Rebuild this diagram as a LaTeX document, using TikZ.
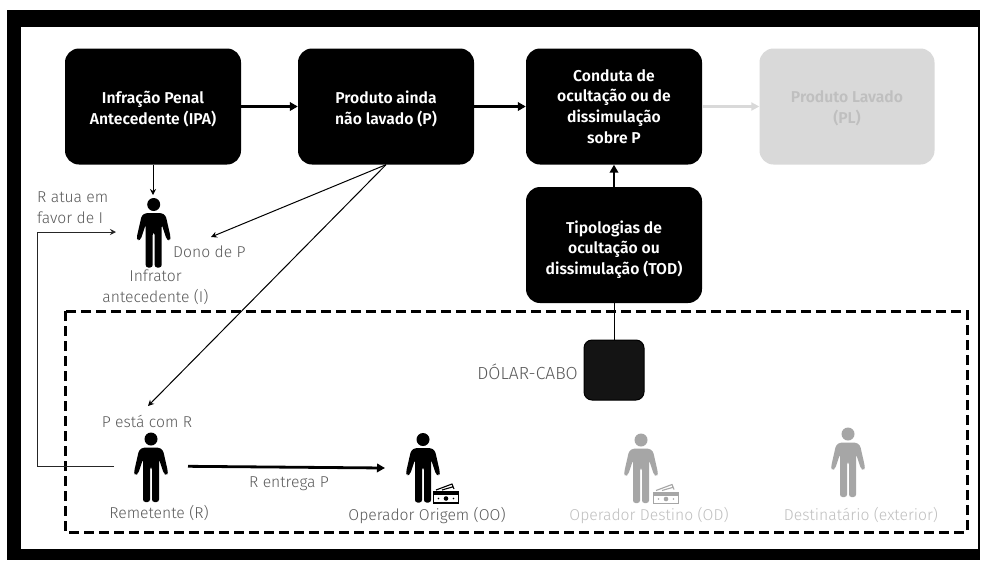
\documentclass[tikz,border=0pt]{standalone}
\usepackage{fontspec}
\setmainfont{Fira Sans Light}[BoldFont={Fira Sans SemiBold}]
\usetikzlibrary{arrows.meta}
\definecolor{txtg}{HTML}{595959}
\definecolor{fadeg}{HTML}{A6A6A6}
\definecolor{lightbox}{HTML}{D9D9D9}
\definecolor{lighttxt}{HTML}{BFBFBF}
\newcommand{\dn}[1]{\rule{0pt}{#1}}
\tikzset{
 x=1pt,y=-1pt,
 blk/.style={fill=black,rounded corners=14pt,text=white,font=\fontsize{15.7}{20.7}\selectfont\bfseries,align=center,anchor=center,inner sep=0pt},
 lbl/.style={text=txtg,font=\fontsize{15.7}{21}\selectfont,align=center,inner sep=0pt},
 thin arrow/.style={draw=black,line width=1pt,-{Stealth[length=6pt,width=6pt]}},
 thick arrow/.style={draw=black,line width=2.8pt,-{Stealth[length=8pt,width=8.5pt,inset=0pt]}},
}
\newcommand{\person}[3]{% x, y (head centre), colour
 \begin{scope}[shift={(#1,#2)}]
  \fill[#3] (0,0) circle (6.5);
  \fill[#3,rounded corners=2.5pt] (-8,8.5) -- (8,8.5) -- (12,11) -- (17,33) -- (16,36) -- (13,35) -- (8,20) -- (8,63) -- (1,63) -- (1,28) -- (-1,28) -- (-1,63) -- (-8,63) -- (-8,20) -- (-13,35) -- (-16,36) -- (-17,33) -- (-12,11) -- cycle;
 \end{scope}}
\newcommand{\cash}[3]{% x, y, colour
 \begin{scope}[shift={(#1,#2)}]
  \draw[#3,line width=1.4pt] (0.5,7) rectangle (25.5,18);
  \fill[#3] (0,7) rectangle (26,10);
  \fill[#3] (13,13.5) circle (2.3);
  \fill[#3] (5.5,13.5) circle (.8) (20.5,13.5) circle (.8);
  \draw[#3,line width=1.1pt] (3,5) -- (19,-1) -- (21,4) (9,5) -- (20,1.8);
 \end{scope}}
\begin{document}
\begin{tikzpicture}
\useasboundingbox (0,0) rectangle (981,560);
\fill[white] (0,0) rectangle (981,560);
\fill[black] (7,10) rectangle (980,560);
\fill[white] (21,27) rectangle (978,549);
% boxes
\node[blk,minimum width=176,minimum height=116] (ipa) at (153,106.5) {\dn{17pt}Infração Penal\\Antecedente (IPA)};
\node[blk,minimum width=176,minimum height=116] (p) at (386,106.5) {\dn{17pt}Produto ainda\\não lavado (P)};
\node[blk,minimum width=176,minimum height=116] (cond) at (614,106.5) {Conduta de\\ocultação ou de\\dissimulação\\sobre P};
\node[blk,fill=lightbox,text=lighttxt,minimum width=175,minimum height=116] (pl) at (847,106.5) {\dn{16pt}Produto Lavado\\(PL)};
\node[blk,minimum width=176,minimum height=116] (tod) at (614,245) {\dn{22pt}Tipologias de\\ocultação ou\\dissimulação (TOD)};
\node[fill=black!92,draw=black,line width=1pt,rounded corners=8pt,minimum width=60,minimum height=60,inner sep=0pt] (dc) at (614,370) {};
% dashed
\draw[black,line width=3pt,dash pattern=on 10pt off 5pt] (65,311) rectangle (967,532);
% people
\person{153.7}{204.5}{black}
\person{151}{439}{black}
\person{423}{439.5}{black}
\person{641}{440}{fadeg}
\person{848}{434}{fadeg}
\cash{433}{485}{black}
\cash{653}{485.5}{fadeg}
% anchors
\coordinate (iarrow) at (153,195);
\coordinate (donoP) at (211,237);
\coordinate (pestaR) at (148,406);
\coordinate (rbeg) at (114,466);
\coordinate (rtop) at (37,232);
\coordinate (rend) at (116,232);
\coordinate (r2) at (188,466.3);
\coordinate (oo) at (385,468);
% connectors
\draw[thick arrow] (ipa.east) -- (p.west);
\draw[thick arrow] (p.east) -- (cond.west);
\draw[draw=lightbox,line width=2.4pt,-{Stealth[length=8pt,width=8pt,inset=0pt]}] (cond.east) -- (pl.west);
\draw[thick arrow] (tod.north) -- (cond.south);
\draw[black,line width=0.9pt] (tod.south) -- (dc.north);
\draw[thin arrow] (ipa.south) -- (iarrow);
\draw[thin arrow] (p.south) -- (donoP);
\draw[thin arrow] (p.south) -- (pestaR);
\draw[thin arrow,draw=black!85] (rbeg) -- (37,466) -- (rtop) -- (rend);
\draw[thick arrow] (r2) -- (oo);
% labels
\node[lbl,align=left,anchor=west] (l1) at (37,208) {R atua em\\favor de I};
\node[lbl,anchor=west] (l2) at (173,252) {Dono de P};
\node[lbl] (l3) at (155.5,287) {Infrator\\antecedente (I)};
\node[lbl,anchor=east,font=\fontsize{17.5}{21}\selectfont] (l4) at (578,372) {DÓLAR-CABO};
\node[lbl] (l5) at (147,421) {P está com R};
\node[lbl] (l6) at (159,513) {Remetente (R)};
\node[lbl] (l7) at (289,484) {R entrega P};
\node[lbl] (l8) at (427,516) {Operador Origem (OO)};
\node[lbl,text=lighttxt] (l9) at (649,516) {Operador Destino (OD)};
\node[lbl,text=lighttxt] (l10) at (861,515) {Destinatário (exterior)};
\end{tikzpicture}
\end{document}
